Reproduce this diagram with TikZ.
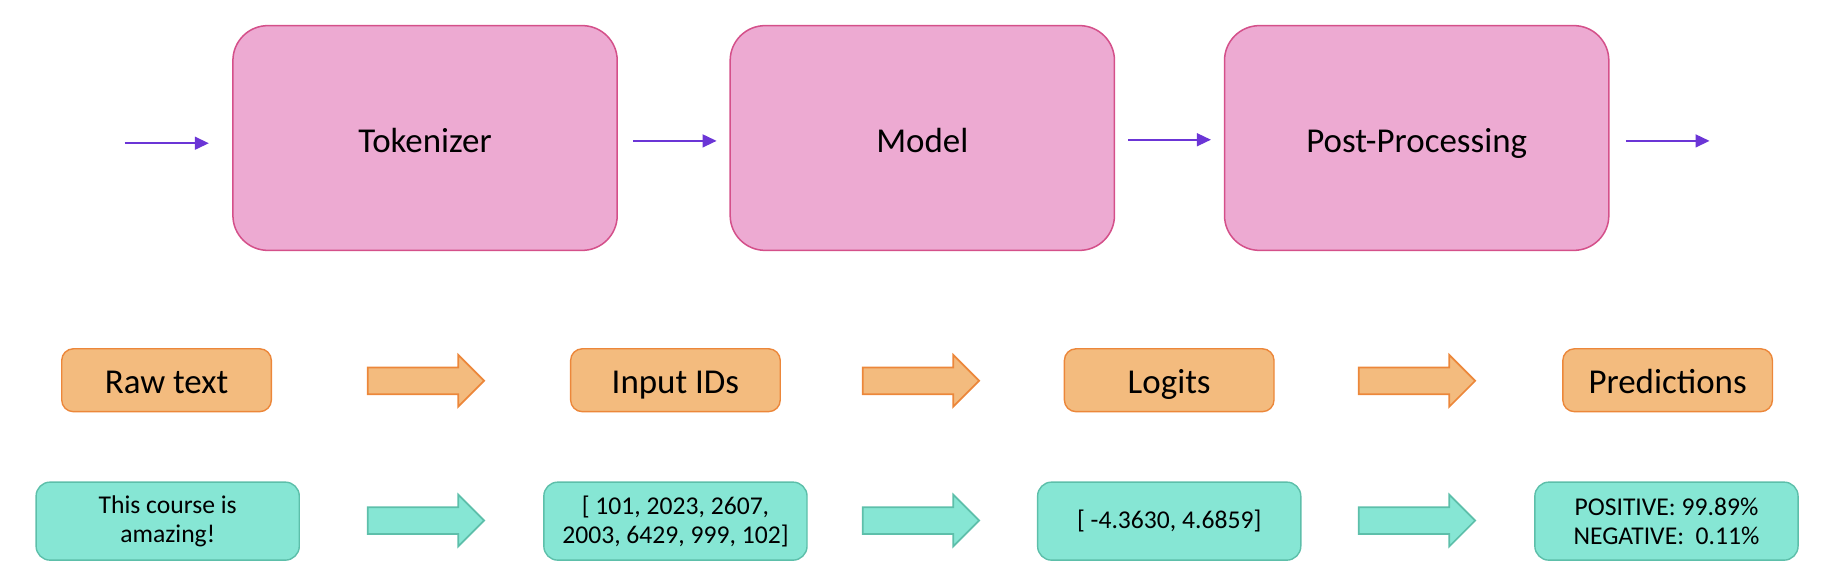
\documentclass[tikz,border=0pt]{standalone}
\usepackage{fontspec}
\setmainfont{Carlito}
\usetikzlibrary{arrows.meta,shapes.arrows}
\definecolor{pinkfill}{HTML}{EDAAD2}
\definecolor{pinkline}{HTML}{D4508A}
\definecolor{orfill}{HTML}{F3BB7E}
\definecolor{orline}{HTML}{EC873A}
\definecolor{tealfill}{HTML}{86E6D4}
\definecolor{tealline}{HTML}{5DBFAA}
\definecolor{purp}{HTML}{6B35D6}
\tikzset{
  x=1pt,y=1pt,
  stage/.style={draw=pinkline,fill=pinkfill,line width=1.3pt,rounded corners=30pt,
    minimum width=330pt,minimum height=193pt,inner sep=0pt,
    text height=25pt,text depth=0pt,
    font=\fontsize{30}{36}\selectfont},
  obox/.style={draw=orline,fill=orfill,line width=1.2pt,rounded corners=10pt,
    minimum width=180pt,minimum height=54pt,inner sep=0pt,
    text height=22pt,text depth=0pt,
    font=\fontsize{30}{36}\selectfont},
  tbox/.style={draw=tealline,fill=tealfill,line width=1.2pt,rounded corners=12pt,
    minimum width=226pt,minimum height=67pt,inner sep=0pt,align=center,
    font=\fontsize{22}{25}\selectfont},
  flow/.style={draw=purp,line width=1.6pt,-{Triangle[length=12pt,width=11pt]}},
  barrow/.style={single arrow,line width=1.5pt,minimum height=100pt,
    inner xsep=0pt,inner ysep=10.75pt,single arrow head extend=10.75pt,
    single arrow tip angle=90,single arrow head indent=0pt},
  oarrow/.style={barrow,draw=orline,fill=orfill},
  tarrow/.style={barrow,draw=tealline,fill=tealfill},
}
\begin{document}
\begin{tikzpicture}
\useasboundingbox (0,0) rectangle (1568,-502);
% top row
\node[stage] (tok) at (365,-118.5) {Tokenizer};
\node[stage] (mod) at (792,-118.5) {Model};
\node[stage] (post) at (1216.5,-118.5) {Post-Processing};
\coordinate (in) at (107,-123);
\coordinate (out) at (1468,-121);
\draw[flow] (in) -- ([shift={(-20pt,-4.5pt)}]tok.west);
\draw[flow] ([shift={(13pt,-2.5pt)}]tok.east) -- ([shift={(-11pt,-2.5pt)}]mod.west);
\draw[flow] ([shift={(11pt,-1.5pt)}]mod.east) -- ([shift={(-11pt,-1.5pt)}]post.west);
\draw[flow] ([shift={(14pt,-2.5pt)}]post.east) -- (out);
% middle row
\node[obox] (raw) at (143,-326.5) {Raw text};
\node[obox] (ids) at (580,-326.5) {Input IDs};
\node[obox] (log) at (1004,-326.5) {Logits};
\node[obox] (pred) at (1432,-326.5) {Predictions};
\node[oarrow] (oa1) at (360,-327) {};
\node[oarrow] (oa2) at (785,-327) {};
\node[oarrow] (oa3) at (1211,-327) {};
% bottom row
\node[tbox] (t1) at (144,-447.5) {This course is\\amazing!};
\node[tbox] (t2) at (580,-447.5) {[ 101, 2023, 2607,\\2003, 6429, 999, 102]};
\node[tbox] (t3) at (1004,-447.5) {[ -4.3630, 4.6859]};
\node[tbox] (t4) at (1431,-447.5) {POSITIVE: 99.89\%\\NEGATIVE:\ \ 0.11\%};
\node[tarrow] (ta1) at (360,-447) {};
\node[tarrow] (ta2) at (785,-447) {};
\node[tarrow] (ta3) at (1211,-447) {};
\end{tikzpicture}
\end{document}
